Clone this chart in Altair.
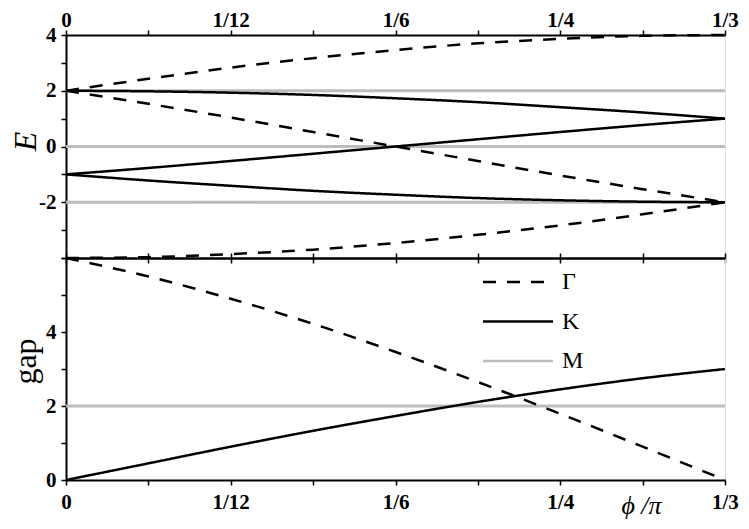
import altair as alt
import pandas as pd

# phi / pi sample positions
phi = [0.0, 0.0417, 0.0833, 0.125, 0.1667, 0.2083, 0.25, 0.2917, 0.3333]

# E bands (top panel)
gamma_upper = [2.0, 2.43, 2.83, 3.17, 3.46, 3.70, 3.86, 3.97, 4.0]
gamma_middle = [2.0, 1.53, 1.04, 0.52, 0.0, -0.52, -1.04, -1.53, -2.0]
gamma_lower = [-4.0, -3.97, -3.86, -3.70, -3.46, -3.17, -2.83, -2.43, -2.0]
k_upper = [2.0, 1.98, 1.93, 1.85, 1.73, 1.59, 1.41, 1.22, 1.0]
k_middle = [-1.0, -0.77, -0.52, -0.26, 0.0, 0.26, 0.52, 0.77, 1.0]
k_lower = [-1.0, -1.22, -1.41, -1.59, -1.73, -1.85, -1.93, -1.98, -2.0]
m_levels = [2.0, 0.0, -2.0]

# gaps (bottom panel)
gap_gamma = [6.0, 5.50, 4.90, 4.22, 3.46, 2.65, 1.79, 0.90, 0.0]
gap_k = [0.0, 0.45, 0.90, 1.33, 1.73, 2.11, 2.45, 2.75, 3.0]
gap_m = 2.0

bands = ["Γ", "K", "M"]
x_tick_labels = ["0", "", "1/12", "", "1/6", "", "1/4", "", "1/3"]

rows_top = []
for name, band, ys in [("Γ1", "Γ", gamma_upper), ("Γ2", "Γ", gamma_middle), ("Γ3", "Γ", gamma_lower),
                       ("K1", "K", k_upper), ("K2", "K", k_middle), ("K3", "K", k_lower)]:
    for xv, yv in zip(phi, ys):
        rows_top.append({"x": xv, "y": yv, "band": band, "branch": name})
for i, lv in enumerate(m_levels):
    for xv in (phi[0], phi[-1]):
        rows_top.append({"x": xv, "y": lv, "band": "M", "branch": f"M{i}"})
top_df = pd.DataFrame(rows_top)

rows_bot = []
for band, ys in [("Γ", gap_gamma), ("K", gap_k)]:
    for xv, yv in zip(phi, ys):
        rows_bot.append({"x": xv, "y": yv, "band": band})
for xv in (phi[0], phi[-1]):
    rows_bot.append({"x": xv, "y": gap_m, "band": "M"})
bot_df = pd.DataFrame(rows_bot)

SERIF = "Liberation Serif"
label_expr_x = "[" + ",".join(f"'{s}'" for s in x_tick_labels) + "][round(datum.value*24)]"

color_scale = alt.Scale(domain=bands, range=["#000000", "#000000", "#bdbdbd"])
dash_scale = alt.Scale(domain=bands, range=[[13, 11], [1, 0], [1, 0]])
x_scale = alt.Scale(domain=[0, 1 / 3], nice=False, zero=False)

axis_common = dict(
    labelFont=SERIF, labelFontWeight="bold", labelFontSize=21, labelColor="black",
    domainColor="black", domainWidth=2, tickColor="black", tickWidth=1.5, tickSize=5,
    labelFlush=False, labelOverlap=False, grid=False,
)

def x_axis(orient, with_labels=True, title=None, pad=4, baseline=None):
    kw = dict(axis_common)
    kw.update(orient=orient, values=phi, labelPadding=pad)
    if baseline:
        kw["labelBaseline"] = baseline
    if with_labels:
        kw["labelExpr"] = label_expr_x
    else:
        kw["labels"] = False
    if title:
        kw.update(title=title, titleFont=SERIF, titleFontSize=26, titleFontWeight="normal",
                  titleFontStyle="italic", titleX=575, titleY=33, titleBaseline="alphabetic",
                  titleAlign="center", titleAnchor="start")
    else:
        kw["title"] = None
    return alt.Axis(**kw)

top_y_axis = alt.Axis(
    values=[-4, -3, -2, -1, 0, 1, 2, 3, 4],
    labelExpr="(datum.value % 2 == 0 && datum.value > -4) ? ('' + datum.value) : ''",
    labelPadding=5, title="E", titleFont=SERIF, titleFontSize=32, titleFontStyle="italic",
    titleFontWeight="normal", titleX=-31, titleY=106, titleAngle=270, titleAlign="center",
    titleBaseline="alphabetic", **axis_common,
)
bot_y_axis = alt.Axis(
    values=[0, 1, 2, 3, 4, 5, 6],
    labelExpr="(datum.value % 2 == 0 && datum.value < 6) ? ('' + datum.value) : ''",
    labelPadding=5, title="gap", titleFont=SERIF, titleFontSize=32,
    titleFontWeight="normal", titleX=-31, titleY=103, titleAngle=270, titleAlign="center",
    titleBaseline="alphabetic", **axis_common,
)

legend = alt.Legend(
    title=None, orient="none", legendX=415, legendY=12, symbolType="M-1,0H6",
    symbolSize=400, symbolStrokeWidth=2.5, labelFont=SERIF, labelFontSize=24,
    labelColor="black", labelOffset=57, rowPadding=15.5,
)

W, H_TOP, H_BOT = 659, 223, 222

top_base = alt.Chart(top_df).encode(
    y=alt.Y("y:Q", scale=alt.Scale(domain=[-4, 4], nice=False, zero=False), axis=top_y_axis),
    color=alt.Color("band:N", scale=color_scale, legend=None),
    strokeDash=alt.StrokeDash("band:N", scale=dash_scale, legend=None),
    detail="branch:N",
)
top = alt.layer(
    top_base.transform_filter("datum.band == 'M'").mark_line(strokeWidth=3).encode(
        x=alt.X("x:Q", scale=x_scale, axis=x_axis("top", pad=4, baseline="alphabetic"))),
    top_base.transform_filter("datum.band != 'M'").mark_line(strokeWidth=2.5, interpolate="monotone").encode(
        x=alt.X("x:Q", scale=x_scale, axis=x_axis("bottom", with_labels=False))),
).resolve_axis(x="independent").properties(width=W, height=H_TOP)

bot_base = alt.Chart(bot_df).encode(
    y=alt.Y("y:Q", scale=alt.Scale(domain=[0, 6], nice=False, zero=False), axis=bot_y_axis),
    color=alt.Color("band:N", scale=color_scale, legend=legend),
    strokeDash=alt.StrokeDash("band:N", scale=dash_scale, legend=legend),
)
bottom = alt.layer(
    bot_base.transform_filter("datum.band == 'M'").mark_line(strokeWidth=3).encode(
        x=alt.X("x:Q", scale=x_scale, axis=x_axis("bottom", title="ϕ /π", pad=6))),
    bot_base.transform_filter("datum.band != 'M'").mark_line(strokeWidth=2.5, interpolate="monotone").encode(
        x=alt.X("x:Q", scale=x_scale, axis=x_axis("top", with_labels=False))),
).resolve_axis(x="independent").properties(width=W, height=H_BOT)

chart = alt.vconcat(top, bottom, spacing=0, bounds="flush").resolve_legend(
    color="independent", strokeDash="independent"
).properties(
    padding={"left": 0, "top": 0, "right": 0, "bottom": 0}
).configure_view(stroke="black", strokeWidth=2).configure(background="white")

chart.save("out.html", embed_options={"renderer": "svg", "actions": False})
